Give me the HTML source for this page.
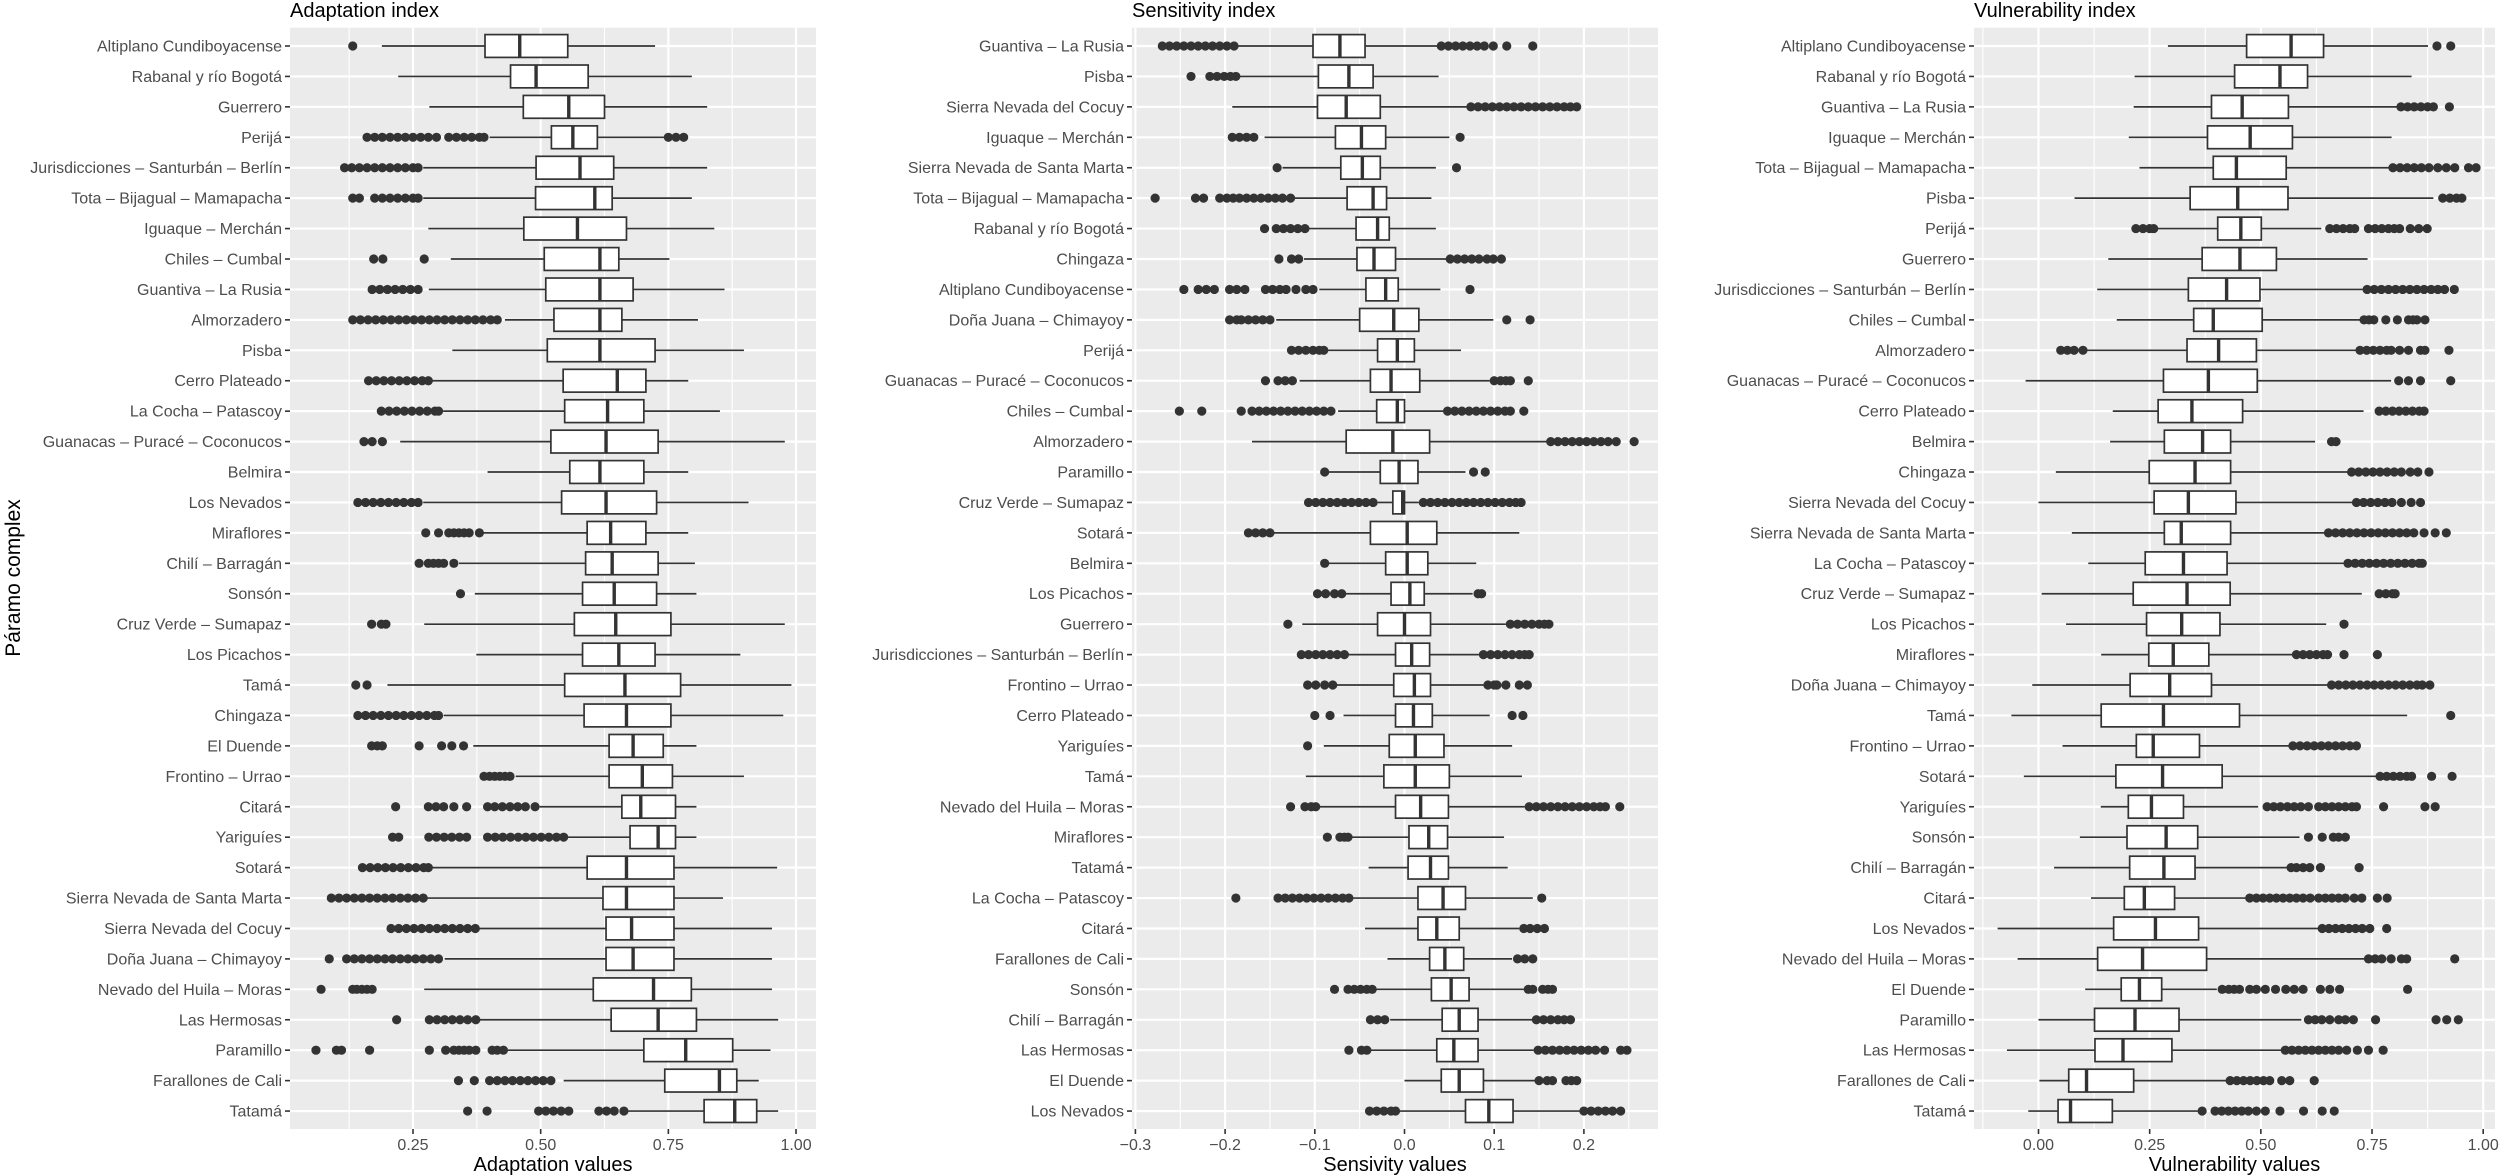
<!DOCTYPE html>
<html><head><meta charset="utf-8"><title>Páramo complex indices</title>
<style>
html,body{margin:0;padding:0;background:#fff;}
svg{display:block;font-family:"Liberation Sans",Arial,sans-serif;}
</style></head>
<body>
<svg id="chart" xmlns="http://www.w3.org/2000/svg" width="2500" height="1176" viewBox="0 0 2500 1176">
<rect width="2500" height="1176" fill="#ffffff"/>
<text x="20" y="578" transform="rotate(-90 20 578)" text-anchor="middle" font-size="21" fill="#000">Páramo complex</text>
</svg>
<script>
// ---------- Panel 1: Adaptation ----------
const adaptCats = ["Altiplano Cundiboyacense","Rabanal y río Bogotá","Guerrero","Perijá","Jurisdicciones – Santurbán – Berlín","Tota – Bijagual – Mamapacha","Iguaque – Merchán","Chiles – Cumbal","Guantiva – La Rusia","Almorzadero","Pisba","Cerro Plateado","La Cocha – Patascoy","Guanacas – Puracé – Coconucos","Belmira","Los Nevados","Miraflores","Chilí – Barragán","Sonsón","Cruz Verde – Sumapaz","Los Picachos","Tamá","Chingaza","El Duende","Frontino – Urrao","Citará","Yariguíes","Sotará","Sierra Nevada de Santa Marta","Sierra Nevada del Cocuy","Doña Juana – Chimayoy","Nevado del Huila – Moras","Las Hermosas","Paramillo","Farallones de Cali","Tatamá"];
const adaptBox = [[0.189,0.391,0.459,0.553,0.724],[0.221,0.441,0.491,0.593,0.796],[0.282,0.466,0.555,0.625,0.826],[0.40,0.521,0.563,0.611,0.743],[0.27,0.491,0.577,0.643,0.826],[0.27,0.49,0.606,0.64,0.796],[0.28,0.467,0.572,0.668,0.84],[0.324,0.507,0.616,0.653,0.752],[0.281,0.51,0.616,0.681,0.86],[0.43,0.526,0.616,0.659,0.808],[0.327,0.513,0.616,0.724,0.898],[0.287,0.544,0.65,0.706,0.789],[0.309,0.547,0.631,0.702,0.851],[0.225,0.52,0.628,0.73,0.978],[0.396,0.557,0.616,0.702,0.789],[0.27,0.541,0.628,0.727,0.907],[0.386,0.591,0.637,0.706,0.789],[0.34,0.588,0.64,0.73,0.802],[0.371,0.582,0.644,0.727,0.805],[0.272,0.566,0.647,0.755,0.978],[0.374,0.582,0.653,0.724,0.891],[0.2,0.547,0.665,0.774,0.991],[0.31,0.585,0.668,0.755,0.975],[0.368,0.634,0.681,0.74,0.805],[0.451,0.634,0.699,0.758,0.898],[0.498,0.659,0.696,0.764,0.805],[0.551,0.675,0.73,0.764,0.805],[0.287,0.591,0.668,0.761,0.963],[0.278,0.622,0.668,0.761,0.857],[0.38,0.628,0.678,0.761,0.953],[0.312,0.628,0.681,0.761,0.953],[0.272,0.603,0.721,0.795,0.953],[0.373,0.638,0.73,0.805,0.965],[0.432,0.702,0.784,0.876,0.95],[0.545,0.743,0.85,0.884,0.927],[0.668,0.82,0.88,0.923,0.965]];
const adaptOut = [[0.132],[],[],[0.16,0.175,0.19,0.205,0.22,0.235,0.25,0.265,0.28,0.296,0.32,0.335,0.35,0.365,0.38,0.389,0.75,0.765,0.78],[0.116,0.13,0.145,0.16,0.175,0.19,0.205,0.22,0.235,0.25,0.26],[0.132,0.145,0.175,0.19,0.205,0.22,0.235,0.25,0.26],[],[0.173,0.191,0.272],[0.17,0.185,0.2,0.215,0.23,0.245,0.26],[0.132,0.147,0.162,0.177,0.192,0.207,0.222,0.237,0.252,0.267,0.282,0.297,0.312,0.327,0.342,0.357,0.372,0.387,0.402,0.415],[],[0.163,0.178,0.193,0.208,0.223,0.238,0.253,0.268,0.28],[0.188,0.203,0.218,0.233,0.248,0.263,0.278,0.293,0.30],[0.154,0.17,0.19],[],[0.142,0.157,0.172,0.187,0.202,0.217,0.232,0.247,0.26],[0.275,0.30,0.32,0.33,0.34,0.35,0.36,0.38],[0.262,0.28,0.29,0.30,0.31,0.33],[0.343],[0.169,0.188,0.197],[],[0.138,0.16],[0.142,0.157,0.172,0.187,0.202,0.217,0.232,0.247,0.262,0.277,0.292,0.30],[0.169,0.18,0.19,0.262,0.306,0.326,0.349],[0.389,0.40,0.41,0.42,0.43,0.44],[0.216,0.28,0.295,0.31,0.33,0.355,0.396,0.41,0.425,0.44,0.455,0.47,0.489],[0.21,0.222,0.281,0.296,0.311,0.326,0.341,0.355,0.396,0.411,0.426,0.441,0.456,0.471,0.486,0.501,0.516,0.531,0.545],[0.151,0.166,0.181,0.196,0.211,0.226,0.241,0.256,0.271,0.28],[0.09,0.105,0.12,0.135,0.15,0.165,0.18,0.195,0.21,0.225,0.24,0.255,0.27],[0.207,0.222,0.237,0.252,0.267,0.282,0.297,0.312,0.327,0.342,0.357,0.372],[0.086,0.12,0.135,0.15,0.165,0.18,0.195,0.21,0.225,0.24,0.255,0.27,0.285,0.30],[0.07,0.132,0.14,0.15,0.16,0.17],[0.218,0.282,0.297,0.312,0.327,0.342,0.357,0.373],[0.06,0.10,0.11,0.165,0.282,0.314,0.33,0.34,0.35,0.36,0.373,0.405,0.415,0.427],[0.339,0.37,0.40,0.415,0.43,0.445,0.46,0.475,0.49,0.505,0.52],[0.357,0.395,0.496,0.51,0.525,0.54,0.555,0.614,0.629,0.644,0.663]];
const adaptTicks = [0.25,0.5,0.75,1.0];
const adaptTickLabels = ["0.25","0.50","0.75","1.00"];

// ---------- Panel 2: Sensitivity ----------
const sensCats = ["Guantiva – La Rusia","Pisba","Sierra Nevada del Cocuy","Iguaque – Merchán","Sierra Nevada de Santa Marta","Tota – Bijagual – Mamapacha","Rabanal y río Bogotá","Chingaza","Altiplano Cundiboyacense","Doña Juana – Chimayoy","Perijá","Guanacas – Puracé – Coconucos","Chiles – Cumbal","Almorzadero","Paramillo","Cruz Verde – Sumapaz","Sotará","Belmira","Los Picachos","Guerrero","Jurisdicciones – Santurbán – Berlín","Frontino – Urrao","Cerro Plateado","Yariguíes","Tamá","Nevado del Huila – Moras","Miraflores","Tatamá","La Cocha – Patascoy","Citará","Farallones de Cali","Sonsón","Chilí – Barragán","Las Hermosas","El Duende","Los Nevados"];
const sensBox = [[-0.19,-0.102,-0.072,-0.044,0.041],[-0.188,-0.096,-0.062,-0.035,0.038],[-0.192,-0.097,-0.065,-0.027,0.074],[-0.156,-0.077,-0.048,-0.021,0.05],[-0.136,-0.071,-0.047,-0.027,0.035],[-0.127,-0.064,-0.035,-0.02,0.03],[-0.107,-0.054,-0.03,-0.017,0.035],[-0.112,-0.053,-0.034,-0.01,0.049],[-0.095,-0.043,-0.021,-0.007,0.04],[-0.143,-0.05,-0.012,0.016,0.099],[-0.089,-0.03,-0.008,0.011,0.063],[-0.117,-0.038,-0.015,0.017,0.095],[-0.074,-0.031,-0.008,0.0,0.043],[-0.17,-0.065,-0.013,0.028,0.163],[-0.085,-0.027,-0.006,0.015,0.068],[-0.03,-0.013,-0.002,0.0,0.016],[-0.148,-0.038,0.003,0.036,0.128],[-0.085,-0.021,0.003,0.026,0.08],[-0.068,-0.015,0.006,0.022,0.076],[-0.114,-0.03,0.0,0.029,0.113],[-0.065,-0.01,0.008,0.028,0.083],[-0.077,-0.012,0.011,0.029,0.088],[-0.068,-0.01,0.01,0.031,0.095],[-0.09,-0.017,0.012,0.044,0.12],[-0.11,-0.023,0.012,0.05,0.131],[-0.097,-0.01,0.018,0.049,0.134],[-0.062,0.005,0.027,0.048,0.111],[-0.04,0.004,0.029,0.049,0.115],[-0.06,0.015,0.043,0.068,0.143],[-0.044,0.015,0.036,0.061,0.128],[-0.019,0.028,0.045,0.066,0.12],[-0.033,0.03,0.052,0.072,0.134],[-0.016,0.042,0.061,0.082,0.143],[-0.039,0.036,0.055,0.082,0.144],[0.0,0.041,0.061,0.088,0.146],[-0.007,0.068,0.094,0.121,0.2]];
const sensOut = [[-0.27,-0.262,-0.254,-0.246,-0.238,-0.23,-0.222,-0.214,-0.206,-0.198,-0.19,0.041,0.049,0.057,0.065,0.073,0.081,0.089,0.099,0.114,0.143],[-0.238,-0.217,-0.209,-0.201,-0.194,-0.188],[0.074,0.082,0.09,0.098,0.106,0.114,0.122,0.13,0.138,0.146,0.154,0.162,0.17,0.178,0.185,0.192],[-0.192,-0.184,-0.176,-0.168,0.062],[-0.142,0.058],[-0.278,-0.233,-0.224,-0.206,-0.198,-0.191,-0.184,-0.176,-0.168,-0.16,-0.152,-0.144,-0.136,-0.127],[-0.156,-0.143,-0.135,-0.127,-0.119,-0.111],[-0.14,-0.126,-0.118,0.051,0.059,0.067,0.075,0.083,0.092,0.099,0.108],[-0.246,-0.23,-0.221,-0.212,-0.195,-0.187,-0.178,-0.155,-0.147,-0.139,-0.132,-0.121,-0.11,-0.102,0.073],[-0.195,-0.187,-0.182,-0.174,-0.166,-0.158,-0.15,0.114,0.14],[-0.126,-0.118,-0.11,-0.102,-0.095,-0.09],[-0.155,-0.141,-0.133,-0.125,0.1,0.107,0.113,0.118,0.138],[-0.251,-0.226,-0.182,-0.17,-0.162,-0.154,-0.146,-0.138,-0.13,-0.122,-0.114,-0.106,-0.098,-0.09,-0.082,0.048,0.056,0.064,0.072,0.08,0.088,0.096,0.104,0.112,0.118,0.133],[0.163,0.171,0.179,0.187,0.195,0.203,0.211,0.219,0.227,0.236,0.256],[-0.089,0.077,0.09],[-0.107,-0.099,-0.091,-0.083,-0.075,-0.067,-0.059,-0.051,-0.043,-0.035,0.021,0.029,0.037,0.045,0.053,0.061,0.069,0.077,0.085,0.093,0.101,0.109,0.117,0.124,0.13],[-0.174,-0.166,-0.158,-0.15],[-0.089],[-0.097,-0.088,-0.078,-0.07,0.082,0.086],[-0.13,0.118,0.126,0.134,0.142,0.15,0.156,0.161],[-0.115,-0.107,-0.099,-0.091,-0.083,-0.075,-0.067,0.088,0.096,0.104,0.112,0.12,0.128,0.134,0.139],[-0.108,-0.099,-0.089,-0.08,0.093,0.1,0.103,0.113,0.128,0.137],[-0.1,-0.083,0.12,0.132],[-0.108],[],[-0.127,-0.111,-0.104,-0.099,0.139,0.147,0.155,0.163,0.171,0.179,0.187,0.195,0.203,0.211,0.218,0.224,0.24],[-0.086,-0.072,-0.067,-0.063],[],[-0.188,-0.141,-0.133,-0.125,-0.117,-0.109,-0.101,-0.093,-0.085,-0.077,-0.069,-0.062,0.153],[0.133,0.14,0.148,0.156],[0.126,0.134,0.143],[-0.078,-0.063,-0.056,-0.049,-0.042,-0.036,0.138,0.143,0.154,0.16,0.165],[-0.038,-0.03,-0.022,0.147,0.155,0.163,0.171,0.178,0.185],[-0.062,-0.048,-0.042,0.149,0.157,0.165,0.173,0.181,0.189,0.197,0.205,0.213,0.223,0.241,0.248],[0.15,0.159,0.165,0.18,0.186,0.192],[-0.039,-0.031,-0.023,-0.015,-0.01,0.2,0.208,0.216,0.224,0.232,0.241]];
const sensTicks = [-0.3,-0.2,-0.1,0.0,0.1,0.2];
const sensTickLabels = ["\u22120.3","\u22120.2","\u22120.1","0.0","0.1","0.2"];

// ---------- Panel 3: Vulnerability ----------
const vulnCats = ["Altiplano Cundiboyacense","Rabanal y río Bogotá","Guantiva – La Rusia","Iguaque – Merchán","Tota – Bijagual – Mamapacha","Pisba","Perijá","Guerrero","Jurisdicciones – Santurbán – Berlín","Chiles – Cumbal","Almorzadero","Guanacas – Puracé – Coconucos","Cerro Plateado","Belmira","Chingaza","Sierra Nevada del Cocuy","Sierra Nevada de Santa Marta","La Cocha – Patascoy","Cruz Verde – Sumapaz","Los Picachos","Miraflores","Doña Juana – Chimayoy","Tamá","Frontino – Urrao","Sotará","Yariguíes","Sonsón","Chilí – Barragán","Citará","Los Nevados","Nevado del Huila – Moras","El Duende","Paramillo","Las Hermosas","Farallones de Cali","Tatamá"];
const vulnBox = [[0.291,0.468,0.568,0.641,0.876],[0.216,0.441,0.543,0.605,0.839],[0.214,0.389,0.458,0.562,0.815],[0.203,0.38,0.476,0.571,0.794],[0.227,0.393,0.445,0.557,0.797],[0.081,0.341,0.448,0.561,0.888],[0.259,0.403,0.455,0.501,0.636],[0.157,0.368,0.453,0.535,0.74],[0.132,0.337,0.423,0.498,0.739],[0.176,0.349,0.393,0.503,0.732],[0.1,0.334,0.405,0.49,0.723],[-0.029,0.281,0.382,0.492,0.793],[0.167,0.269,0.345,0.459,0.731],[0.161,0.283,0.369,0.432,0.622],[0.039,0.249,0.352,0.432,0.704],[0.0,0.26,0.337,0.444,0.715],[0.075,0.283,0.321,0.432,0.652],[0.112,0.24,0.326,0.424,0.696],[0.007,0.213,0.334,0.431,0.727],[0.062,0.243,0.322,0.408,0.647],[0.141,0.248,0.303,0.383,0.577],[-0.014,0.206,0.295,0.389,0.659],[-0.061,0.141,0.281,0.452,0.829],[0.054,0.22,0.258,0.362,0.572],[-0.033,0.174,0.279,0.413,0.768],[0.14,0.202,0.254,0.326,0.494],[0.093,0.199,0.287,0.358,0.587],[0.035,0.205,0.282,0.352,0.568],[0.118,0.193,0.238,0.306,0.475],[-0.092,0.169,0.263,0.36,0.638],[-0.047,0.133,0.234,0.378,0.742],[0.105,0.186,0.227,0.277,0.401],[0.0,0.126,0.217,0.316,0.591],[-0.071,0.127,0.19,0.30,0.555],[0.002,0.068,0.108,0.214,0.431],[-0.023,0.044,0.072,0.166,0.368]];
const vulnOut = [[0.896,0.927],[],[0.815,0.83,0.845,0.86,0.875,0.888,0.924],[],[0.797,0.813,0.829,0.845,0.861,0.878,0.898,0.917,0.936,0.967,0.984],[0.909,0.925,0.94,0.952],[0.219,0.235,0.25,0.259,0.655,0.67,0.685,0.7,0.711,0.742,0.757,0.772,0.787,0.8,0.812,0.836,0.855,0.874],[],[0.739,0.755,0.771,0.787,0.803,0.819,0.835,0.851,0.867,0.883,0.898,0.913,0.935],[0.732,0.743,0.754,0.781,0.807,0.832,0.842,0.851,0.869],[0.05,0.065,0.08,0.1,0.723,0.738,0.753,0.768,0.783,0.793,0.812,0.832,0.859,0.869,0.923],[0.81,0.832,0.859,0.927],[0.766,0.781,0.796,0.811,0.826,0.841,0.856,0.867],[0.659,0.669],[0.704,0.72,0.736,0.752,0.768,0.784,0.8,0.816,0.836,0.853,0.878],[0.715,0.731,0.747,0.763,0.779,0.795,0.816,0.838,0.859],[0.652,0.668,0.684,0.7,0.716,0.732,0.748,0.764,0.78,0.796,0.812,0.828,0.844,0.867,0.892,0.917],[0.696,0.712,0.728,0.744,0.76,0.776,0.792,0.808,0.824,0.84,0.856,0.863],[0.766,0.781,0.796,0.802],[0.687],[0.58,0.595,0.61,0.625,0.64,0.65,0.687,0.762],[0.659,0.675,0.691,0.707,0.723,0.739,0.755,0.771,0.787,0.803,0.819,0.835,0.851,0.863,0.88],[0.927],[0.572,0.588,0.604,0.62,0.636,0.652,0.668,0.684,0.7,0.715],[0.768,0.783,0.798,0.813,0.828,0.839,0.884,0.93],[0.514,0.529,0.544,0.56,0.575,0.59,0.607,0.63,0.645,0.66,0.675,0.69,0.705,0.715,0.776,0.869,0.892],[0.607,0.638,0.663,0.675,0.69],[0.568,0.58,0.595,0.61,0.634,0.721],[0.475,0.49,0.505,0.52,0.535,0.55,0.565,0.58,0.595,0.611,0.63,0.645,0.66,0.675,0.69,0.71,0.727,0.762,0.784],[0.638,0.653,0.668,0.683,0.698,0.713,0.728,0.745,0.783],[0.742,0.757,0.772,0.793,0.816,0.828,0.936],[0.413,0.428,0.44,0.452,0.475,0.49,0.51,0.533,0.556,0.575,0.595,0.634,0.655,0.677,0.83],[0.607,0.622,0.637,0.655,0.675,0.69,0.708,0.758,0.894,0.918,0.944],[0.555,0.57,0.585,0.6,0.615,0.63,0.645,0.66,0.675,0.693,0.717,0.742,0.775],[0.431,0.446,0.461,0.476,0.491,0.506,0.52,0.547,0.565,0.62],[0.368,0.397,0.412,0.427,0.442,0.457,0.472,0.49,0.51,0.543,0.596,0.638,0.665]];
const vulnTicks = [0.0,0.25,0.5,0.75,1.0];
const vulnTickLabels = ["0.00","0.25","0.50","0.75","1.00"];

const NS = "http://www.w3.org/2000/svg";
const svg = document.getElementById("chart");
const TOP = 27.7, BOTTOM = 1129, ROW0 = 46, ROWSTEP = 30.43;
function mk(tag, attrs, parent) {
  const e = document.createElementNS(NS, tag);
  for (const k in attrs) e.setAttribute(k, attrs[k]);
  (parent || svg).appendChild(e);
  return e;
}
function yRow(i) { return ROW0 + i * ROWSTEP; }

function drawPanel(cfg) {
  const g = mk("g", {});
  
  
  const xs = v => cfg.x0 + (v - cfg.v0) * cfg.k;
  const bg = mk("rect", {x: cfg.left, y: TOP, width: cfg.right - cfg.left, height: BOTTOM - TOP, fill: "#EBEBEB"}, g);
  
  
  // minor grid
  for (let i = 0; i < cfg.ticks.length + 1; i++) {
    const step = cfg.ticks[1] - cfg.ticks[0];
    const v = cfg.ticks[0] - step / 2 + i * step;
    const x = xs(v);
    if (x <= cfg.left || x >= cfg.right) continue;
    const l = mk("line", {x1: x, x2: x, y1: TOP, y2: BOTTOM, stroke: "#fff", "stroke-width": 1.1}, g);
    
    
  }
  // major grid + ticks
  cfg.ticks.forEach((v, i) => {
    const x = xs(v);
    const l = mk("line", {x1: x, x2: x, y1: TOP, y2: BOTTOM, stroke: "#fff", "stroke-width": 2.2}, g);
    
    
    const t = mk("line", {x1: x, x2: x, y1: BOTTOM, y2: BOTTOM + 5, stroke: "#333", "stroke-width": 1.6}, g);
    
    
    const tx = mk("text", {x: x, y: 1150, "text-anchor": "middle", "font-size": 16, fill: "#4D4D4D"}, g);
    tx.textContent = cfg.tickLabels[i];
    
    
  });
  cfg.cats.forEach((c, i) => {
    const y = yRow(i);
    const l = mk("line", {x1: cfg.left, x2: cfg.right, y1: y, y2: y, stroke: "#fff", "stroke-width": 2.2}, g);
    
    
    const t = mk("line", {x1: cfg.left - 5, x2: cfg.left, y1: y, y2: y, stroke: "#333", "stroke-width": 1.6}, g);
    
    
    const tx = mk("text", {x: cfg.left - 8, y: y + 5.5, "text-anchor": "end", "font-size": 16, fill: "#4D4D4D"}, g);
    tx.textContent = c;
    
    
  });
  // boxes
  cfg.box.forEach((b, i) => {
    const y = yRow(i), h = ROWSTEP * 0.75;
    const bg2 = mk("g", {}, g);
    
    
    const w1 = mk("line", {x1: xs(b[0]), x2: xs(b[1]), y1: y, y2: y, stroke: "#333", "stroke-width": 1.7}, bg2);
    
    
    const w2 = mk("line", {x1: xs(b[3]), x2: xs(b[4]), y1: y, y2: y, stroke: "#333", "stroke-width": 1.7}, bg2);
    
    
    const r = mk("rect", {x: xs(b[1]), y: y - h / 2, width: Math.max(xs(b[3]) - xs(b[1]), 1), height: h, fill: "#fff", stroke: "#333", "stroke-width": 1.7}, bg2);
    
    
    const m = mk("line", {x1: xs(b[2]), x2: xs(b[2]), y1: y - h / 2, y2: y + h / 2, stroke: "#333", "stroke-width": 3.4}, bg2);
    
    
    (cfg.out[i] || []).forEach(v => {
      const c = mk("circle", {cx: xs(v), cy: y, r: 4.6, fill: "#333"}, bg2);
      
      
    });
  });
  const title = mk("text", {x: cfg.left, y: 17, "font-size": 20, fill: "#000"}, g);
  title.textContent = cfg.title;
  
  
  const xt = mk("text", {x: (cfg.left + cfg.right) / 2, y: 1171, "text-anchor": "middle", "font-size": 20, fill: "#000"}, g);
  xt.textContent = cfg.xTitle;
  
  
}

drawPanel({key: "adaptation", cats: adaptCats, box: adaptBox, out: adaptOut, ticks: adaptTicks, tickLabels: adaptTickLabels,
  left: 290, right: 816, x0: 413, v0: 0.25, k: 510.7, title: "Adaptation index", xTitle: "Adaptation values"});
drawPanel({key: "sensitivity", cats: sensCats, box: sensBox, out: sensOut, ticks: sensTicks, tickLabels: sensTickLabels,
  left: 1132, right: 1658, x0: 1404.5, v0: 0, k: 897, title: "Sensitivity index", xTitle: "Sensivity values"});
drawPanel({key: "vulnerability", cats: vulnCats, box: vulnBox, out: vulnOut, ticks: vulnTicks, tickLabels: vulnTickLabels,
  left: 1974, right: 2495, x0: 2038.5, v0: 0, k: 444.7, title: "Vulnerability index", xTitle: "Vulnerability values"});
</script>
</body></html>
